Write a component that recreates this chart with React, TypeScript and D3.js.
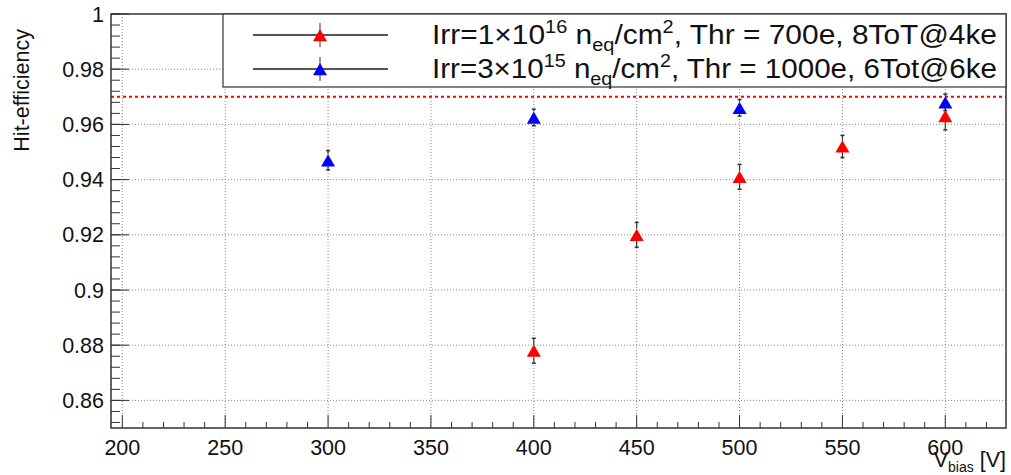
import React from "react";
import { scaleLinear, range } from "d3";

// series: Irr=1e16 (red)
const redX = [400, 450, 500, 550, 600];
const redY = [0.878, 0.920, 0.941, 0.952, 0.963];
const redErr = [0.0045, 0.0045, 0.0045, 0.004, 0.005];

// series: Irr=3e15 (blue)
const blueX = [300, 400, 500, 600];
const blueY = [0.947, 0.9625, 0.966, 0.968];
const blueErr = [0.0035, 0.003, 0.003, 0.003];

const xTicks = [200, 250, 300, 350, 400, 450, 500, 550, 600];
const yTicks = [0.86, 0.88, 0.9, 0.92, 0.94, 0.96, 0.98, 1];
const refLine = 0.97;

const font = "'Liberation Sans', Arial, Helvetica, sans-serif";

function Triangle({ cx, cy, color, s = 7 }) {
  const h = s * 1.75;
  return (
    <path
      d={`M${cx},${cy - h / 2} L${cx + s},${cy + h / 2} L${cx - s},${cy + h / 2} Z`}
      fill={color}
    />
  );
}

export default function App() {
  const width = 1011;
  const height = 475;
  const frame = { left: 111, right: 1006, top: 14, bottom: 428 };

  const x = scaleLinear().domain([194.5, 629.5]).range([frame.left, frame.right]);
  const y = scaleLinear().domain([0.85, 1.0]).range([frame.bottom, frame.top]);

  const xMinor = range(200, 630, 10);
  const yMinor = range(0, 38).map(i => 0.852 + i * 0.004).filter(v => v <= 1.0001);

  const series = [
    { xs: redX, ys: redY, es: redErr, color: "#ff0000" },
    { xs: blueX, ys: blueY, es: blueErr, color: "#0000ff" },
  ];

  const drawPoint = (cx, v, e, color, key) => {
    const cy = y(v);
    const top = y(v + e);
    const bot = y(v - e);
    const half = 6;
    return (
      <g key={key}>
        <line x1={cx} x2={cx} y1={top} y2={cy - half} stroke="#333" strokeWidth={1.2} />
        <line x1={cx} x2={cx} y1={cy + half} y2={bot} stroke="#333" strokeWidth={1.2} />
        <line x1={cx - 2} x2={cx + 2} y1={top} y2={top} stroke="#333" strokeWidth={1.5} />
        <line x1={cx - 2} x2={cx + 2} y1={bot} y2={bot} stroke="#333" strokeWidth={1.5} />
        <Triangle cx={cx} cy={cy} color={color} />
      </g>
    );
  };

  const legendRows = [
    { color: "#ff0000", exp: "16", pre: "1", rest: ", Thr = 700e, 8ToT@4ke", cy: 35 },
    { color: "#0000ff", exp: "15", pre: "3", rest: ", Thr = 1000e, 6Tot@6ke", cy: 69 },
  ];

  return (
    <svg width={width} height={height} style={{ position: "absolute", left: 0, top: 0, background: "#fff" }} fontFamily={font}>
      {/* grid */}
      {xTicks.map(t => (
        <line key={`gx${t}`} x1={x(t)} x2={x(t)} y1={frame.top} y2={frame.bottom}
          stroke="#888" strokeWidth={1} strokeDasharray="1,2" />
      ))}
      {yTicks.filter(t => t < 1).map(t => (
        <line key={`gy${t}`} x1={frame.left} x2={frame.right} y1={y(t)} y2={y(t)}
          stroke="#888" strokeWidth={1} strokeDasharray="1,2" />
      ))}

      {/* reference line */}
      <line x1={frame.left} x2={frame.right} y1={y(refLine)} y2={y(refLine)}
        stroke="#ff0000" strokeWidth={2} strokeDasharray="3,3" />

      {/* x ticks */}
      {xMinor.map(t => (
        <line key={`xm${t}`} x1={x(t)} x2={x(t)} y1={frame.bottom}
          y2={frame.bottom - (t % 50 === 0 ? 13 : 6)} stroke="#333" strokeWidth={1} />
      ))}
      {xTicks.map(t => (
        <text key={`xl${t}`} x={x(t)} y={455} textAnchor="middle" fontSize={21.5} fill="#111">{t}</text>
      ))}

      {/* y ticks */}
      {yMinor.map((t, i) => (
        <line key={`ym${i}`} x1={frame.left} x2={frame.left + 9} y1={y(t)} y2={y(t)} stroke="#333" strokeWidth={1} />
      ))}
      {yTicks.map(t => (
        <line key={`yM${t}`} x1={frame.left} x2={frame.left + 18} y1={y(t)} y2={y(t)} stroke="#333" strokeWidth={1} />
      ))}
      {yTicks.map(t => (
        <text key={`yl${t}`} x={104} y={y(t) + 7.5} textAnchor="end" fontSize={21.5} fill="#111">{String(t)}</text>
      ))}

      {/* frame */}
      <rect x={frame.left} y={frame.top} width={frame.right - frame.left} height={frame.bottom - frame.top}
        fill="none" stroke="#333" strokeWidth={1.5} />

      {/* data */}
      {series.map((s, si) => s.xs.map((xv, i) => drawPoint(x(xv), s.ys[i], s.es[i], s.color, `p${si}-${i}`)))}

      {/* legend */}
      <rect x={223} y={14} width={783} height={73} fill="#fff" stroke="#333" strokeWidth={1.2} />
      {legendRows.map((r, i) => (
        <g key={`leg${i}`}>
          <line x1={253} x2={388} y1={r.cy} y2={r.cy} stroke="#555" strokeWidth={2} />
          <line x1={320} x2={320} y1={r.cy - 12} y2={r.cy + 12} stroke="#555" strokeWidth={1.2} />
          <Triangle cx={320} cy={r.cy} color={r.color} />
          <text x={432} y={r.cy + 9} fontSize={27} fill="#111" textLength={565} lengthAdjust="spacingAndGlyphs">
            <tspan>{`Irr=${r.pre}\u00d710`}</tspan>
            <tspan dy={-11} fontSize={18}>{r.exp}</tspan>
            <tspan dy={11}>{" n"}</tspan>
            <tspan dy={7} fontSize={18}>eq</tspan>
            <tspan dy={-7}>/cm</tspan>
            <tspan dy={-11} fontSize={18}>2</tspan>
            <tspan dy={11}>{r.rest}</tspan>
          </text>
        </g>
      ))}

      {/* axis titles */}
      <text transform="translate(29,29) rotate(-90)" textAnchor="end" fontSize={21.5} fill="#111">Hit-efficiency</text>
      <text x={1006} y={467} textAnchor="end" fontSize={21.5} fill="#111">
        <tspan>V</tspan>
        <tspan dy={5} fontSize={14}>bias</tspan>
        <tspan dy={-5}>{" [V]"}</tspan>
      </text>
    </svg>
  );
}
